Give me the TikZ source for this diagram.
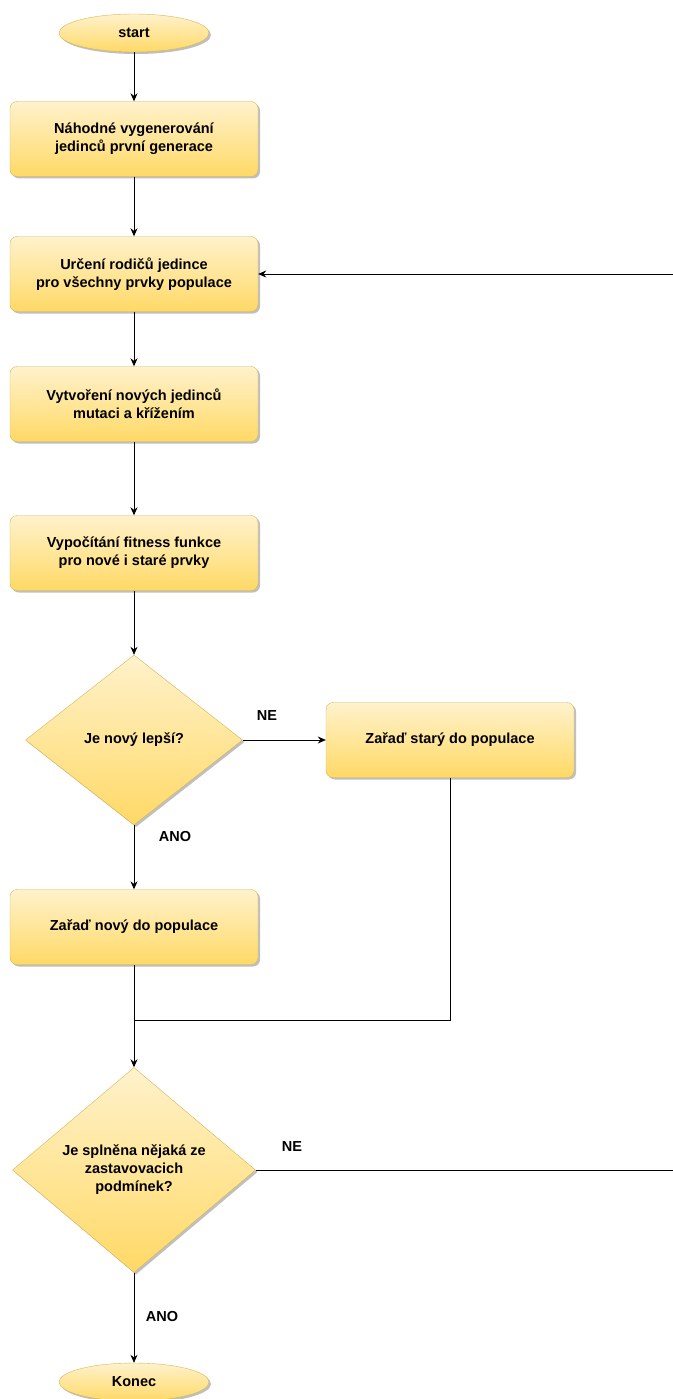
\documentclass[tikz,border=0pt]{standalone}
\usepackage{fontspec}
\setmainfont{Liberation Sans}
\usetikzlibrary{shapes.geometric, shadows, arrows.meta, positioning}

\definecolor{fillTop}{HTML}{FFF2CC}
\definecolor{fillBot}{HTML}{FFD966}
\definecolor{edgeCol}{HTML}{D6B656}

\tikzset{
	shapeBase/.style={draw=edgeCol, top color=fillTop, bottom color=fillBot,
		align=center, inner sep=0pt, font=\fontsize{14.5}{18}\selectfont\bfseries,
		drop shadow={shadow xshift=2pt, shadow yshift=-2pt, opacity=0.25, fill=black}},
	block/.style={shapeBase, rectangle, rounded corners=7pt, minimum width=248pt, minimum height=75pt},
	terminal/.style={shapeBase, ellipse, minimum width=150pt, minimum height=38pt},
	decision/.style={shapeBase, diamond, minimum width=#1},
	flow/.style={-{Stealth[length=8pt, width=7pt]}, line width=0.8pt},
	joint/.style={line width=0.8pt},
	answer/.style={font=\fontsize{14.5}{18}\selectfont\bfseries}
}

\begin{document}
\begin{tikzpicture}[x=1pt, y=-1pt]
	\useasboundingbox (0,0) rectangle (672,1399);

	% kroky algoritmu
	\node[terminal] (start) at (134,33) {start};
	\node[block] (gen) at (134,139) {Náhodné vygenerování\\jedinců první generace};
	\node[block] (parents) at (134,274) {Určení rodičů jedince\\pro všechny prvky populace};
	\node[block] (newind) at (134,404) {Vytvoření nových jedinců\\mutaci a křížením};
	\node[block] (fitness) at (134,553) {Vypočítání fitness funkce\\pro nové i staré prvky};
	\node[decision=217pt, minimum height=170pt] (better) at (134,740) {Je nový lepší?};
	\node[block] (keepold) at (450,740) {Zařaď starý do populace};
	\node[block] (addnew) at (134,927) {Zařaď nový do populace};
	\node[decision=243pt, minimum height=205pt] (stopcheck) at (134,1170) {Je splněna nějaká ze\\zastavovacich\\podmínek?};
	\node[terminal] (stop) at (134,1382) {Konec};

	\coordinate (join) at (134,1020);
	\coordinate (loopBot) at (675,1170);
	\coordinate (loopTop) at (675,274);

	% popisky vetvi
	\node[answer] (ne1) at (267,716) {NE};
	\node[answer] (ano1) at (175,836) {ANO};
	\node[answer] (ne2) at (292,1146) {NE};
	\node[answer] (ano2) at (162,1316) {ANO};

	\begin{scope}[flow]
		\draw (start) -- (gen);
		\draw (gen) -- (parents);
		\draw (parents) -- (newind);
		\draw (newind) -- (fitness);
		\draw (fitness) -- (better);
		\draw (better) -- (keepold);
		\draw (better) -- (addnew);
		\draw (addnew) -- (stopcheck);
		\draw (stopcheck) -- (stop);
		\draw (stopcheck.east) -- (loopBot) -- (loopTop) -- (parents.east);
	\end{scope}

	\draw[joint] (keepold.south) |- (join);
\end{tikzpicture}
\end{document}
